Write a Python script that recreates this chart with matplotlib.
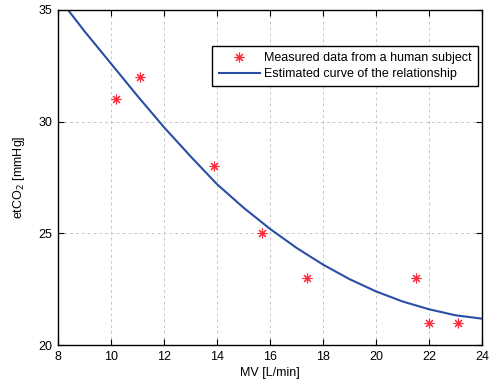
import matplotlib
matplotlib.use("Agg")
import matplotlib.pyplot as plt

plt.rcParams['font.family'] = ['Liberation Sans', 'DejaVu Sans']

meas_x = [10.2, 11.1, 13.9, 15.7, 17.4, 21.5, 22.0, 23.1]
meas_y = [31.0, 32.0, 28.0, 25.0, 23.0, 23.0, 21.0, 21.0]

curve_x = [8.38, 9.0, 10.0, 11.0, 12.0, 13.0, 14.0, 15.0, 16.0, 17.0, 18.0, 19.0, 20.0, 21.0, 22.0, 23.0, 24.0]
curve_y = [35.0, 34.05, 32.6, 31.15, 29.75, 28.45, 27.2, 26.15, 25.2, 24.35, 23.6, 22.95, 22.4, 21.95, 21.6, 21.33, 21.18]

xticks = [8, 10, 12, 14, 16, 18, 20, 22, 24]
yticks = [20, 25, 30, 35]

fig = plt.figure(figsize=(4.91, 3.85), dpi=100)
ax = fig.add_axes([58/491, 1-345/385, (482-58)/491, (345-10)/385])

ax.plot(meas_x, meas_y, linestyle='none', marker=(8, 2, 0), markersize=7,
        color='#ff2a3a', markeredgewidth=0.8, label='Measured data from a human subject', zorder=3)
ax.plot(curve_x, curve_y, color='#2a4ea6', linewidth=1.5,
        label='Estimated curve of the relationship', zorder=2)

ax.set_xlim(8, 24)
ax.set_ylim(20, 35)
ax.set_xticks(xticks)
ax.set_yticks(yticks)
ax.tick_params(direction='in', top=True, right=True, labelsize=9, length=4, width=0.8, pad=4)
ax.grid(True, linestyle=(0, (3, 3)), color='#c8c8c8', linewidth=0.7)
for s in ax.spines.values():
    s.set_linewidth(1.0)
    s.set_color('black')

ax.set_xlabel('MV [L/min]', fontsize=9, labelpad=3)
ax.set_ylabel('etCO$_2$ [mmHg]', fontsize=9, labelpad=8)

leg = ax.legend(loc='upper right', bbox_to_anchor=((478-58)/424, 1-(46-10)/335),
                bbox_transform=ax.transAxes, borderaxespad=0,
                fontsize=9, frameon=True, fancybox=False, edgecolor='black', framealpha=1,
                borderpad=0.5, handlelength=3.3, handletextpad=0.35, labelspacing=0.3)
leg.get_frame().set_linewidth(1.0)

fig.savefig('out.png', dpi=100)
